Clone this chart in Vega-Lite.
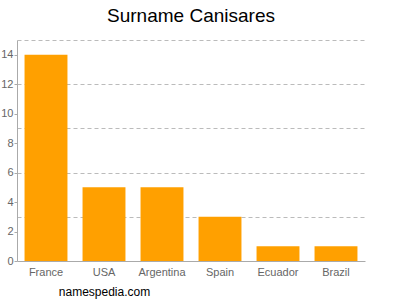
{
  "$schema": "https://vega.github.io/schema/vega-lite/v6.json",
  "width": 348,
  "height": 221,
  "padding": {"left": 0, "top": 7, "right": 35, "bottom": 2},
  "config": {"font": "Liberation Sans", "view": {"stroke": null}},
  "title": {"text": "Surname Canisares", "fontSize": 19, "fontWeight": "normal", "color": "#000", "anchor": "middle", "frame": "group", "offset": 14, "font": "Liberation Sans"},
  "data": {"values": [
    {"country": "France", "count": 14},
    {"country": "USA", "count": 5},
    {"country": "Argentina", "count": 5},
    {"country": "Spain", "count": 3},
    {"country": "Ecuador", "count": 1},
    {"country": "Brazil", "count": 1}
  ]},
  "layer": [
    {
      "mark": {"type": "rule", "opacity": 0},
      "encoding": {
        "y": {"field": "count", "type": "quantitative", "scale": {"domain": [0, 15], "nice": false},
          "axis": {"orient": "left", "values": [3, 6, 9, 12, 15], "grid": true, "gridDash": [4, 3], "gridColor": "#bbbbbb", "labels": false, "ticks": false, "domain": false, "title": null}}
      }
    },
    {
      "mark": {"type": "bar", "color": "#ffa000"},
      "encoding": {
        "x": {"field": "country", "type": "nominal", "sort": null,
          "scale": {"paddingInner": 0.26, "paddingOuter": 0.13},
          "axis": {"labelAngle": 0, "labelColor": "#666", "labelFontSize": 11, "ticks": false, "labelPadding": 5, "domainColor": "#aaa",
            "title": "namespedia.com", "titleFontWeight": "normal", "titleFontSize": 12, "titleColor": "#000", "titleX": 87, "titleY": 25, "titleAlign": "center"}},
        "y": {"field": "count", "type": "quantitative", "scale": {"domain": [0, 15], "nice": false},
          "axis": {"orient": "left", "values": [0, 2, 4, 6, 8, 10, 12, 14], "grid": false, "labelColor": "#666", "labelFontSize": 11, "tickColor": "#aaa", "tickSize": 3, "labelPadding": 1, "domainColor": "#aaa", "title": null}}
      }
    }
  ],
  "resolve": {"axis": {"y": "independent"}}
}
